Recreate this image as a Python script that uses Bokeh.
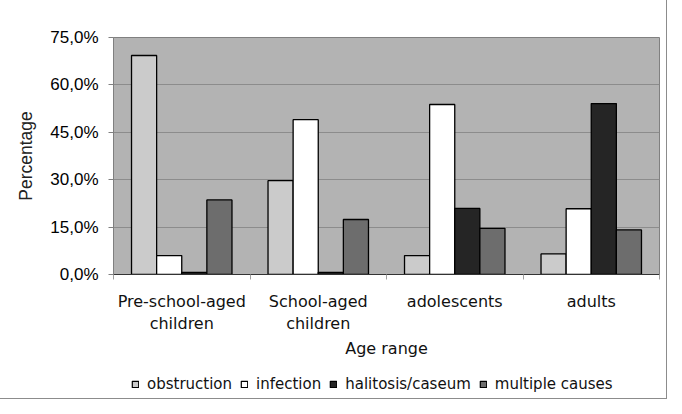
from bokeh.plotting import figure
from bokeh.layouts import column
from bokeh.models import FixedTicker, Legend, LegendItem, ColumnDataSource, Range1d
from bokeh.transform import dodge
from bokeh.embed import file_html
from bokeh.resources import INLINE

categories = ["Pre-school-aged\nchildren", "School-aged\nchildren", "adolescents", "adults"]
series = ["obstruction", "infection", "halitosis/caseum", "multiple causes"]
obstruction = [69.3, 29.7, 6.0, 6.5]
infection = [6.0, 49.0, 53.8, 20.8]
halitosis = [0.7, 0.7, 20.9, 54.1]
multiple = [23.6, 17.4, 14.6, 14.1]
y_ticks = [0, 15, 30, 45, 60, 75]
y_tick_labels = ["0,0%", "15,0%", "30,0%", "45,0%", "60,0%", "75,0%"]
colors = ["#cbcbcb", "#ffffff", "#252525", "#6d6d6d"]

centers = [i + 0.5 for i in range(len(categories))]
bounds = [float(i) for i in range(len(categories) + 1)]
src = ColumnDataSource(dict(x=centers, obstruction=obstruction, infection=infection,
                            halitosis=halitosis, multiple=multiple))

W = 666
H_MAIN = 372
H_LEG = 26

p = figure(width=W, height=H_MAIN, output_backend="svg", toolbar_location=None,
           x_range=Range1d(0, len(categories)), y_range=Range1d(0, 75),
           min_border_left=113, min_border_right=7, min_border_top=37,
           min_border_bottom=H_MAIN - 274,
           background_fill_color="#b3b3b3", border_fill_color="white",
           outline_line_color="#808080")

bw = 0.184
offsets = [-1.5 * bw, -0.5 * bw, 0.5 * bw, 1.5 * bw]
fields = ["obstruction", "infection", "halitosis", "multiple"]
for f, off, c in zip(fields, offsets, colors):
    p.vbar(x=dodge("x", off, range=p.x_range), top=f, width=bw, bottom=0, source=src,
           fill_color=c, line_color="black", line_width=1.3)

# y axis
p.yaxis.ticker = FixedTicker(ticks=y_ticks)
p.yaxis.major_label_overrides = {t: l for t, l in zip(y_ticks, y_tick_labels)}
p.yaxis.major_label_text_font = "Liberation Sans"
p.yaxis.major_label_text_font_size = "17px"
p.yaxis.major_label_text_color = "black"
p.yaxis.major_tick_out = 5
p.yaxis.major_tick_in = 0
p.yaxis.major_tick_line_color = "#808080"
p.yaxis.minor_tick_line_color = None
p.yaxis.axis_line_color = "#808080"
p.yaxis.major_label_standoff = 10
p.yaxis.axis_label = "Percentage"
p.yaxis.axis_label_text_font = "Liberation Sans"
p.yaxis.axis_label_text_font_size = "17.5px"
p.yaxis.axis_label_text_font_style = "normal"
p.yaxis.axis_label_text_color = "#222222"
p.yaxis.axis_label_standoff = 11

# x axis
p.xaxis.ticker = FixedTicker(ticks=centers, minor_ticks=bounds)
p.xaxis.major_label_overrides = {t: l for t, l in zip(centers, categories)}
p.xaxis.major_label_text_font = "DejaVu Sans"
p.xaxis.major_label_text_font_size = "16px"
p.xaxis.major_label_text_color = "#111111"
p.xaxis.major_tick_line_color = None
p.xaxis.major_tick_out = 0
p.xaxis.major_tick_in = 0
p.xaxis.minor_tick_line_color = "#a0a0a0"
p.xaxis.minor_tick_out = 5
p.xaxis.minor_tick_in = 0
p.xaxis.axis_line_color = "#333333"
p.xaxis.major_label_standoff = 12
p.xaxis.axis_label = "Age range"
p.xaxis.axis_label_text_font = "DejaVu Sans"
p.xaxis.axis_label_text_font_size = "16px"
p.xaxis.axis_label_text_font_style = "normal"
p.xaxis.axis_label_text_color = "#111111"
p.xaxis.axis_label_standoff = 3

p.xgrid.grid_line_color = None
p.ygrid.grid_line_color = "#8c8c8c"
p.ygrid.grid_line_width = 1

# legend strip (its frame is aligned with the main plot's frame by the column)
lp = figure(width=W, height=H_LEG, output_backend="svg", toolbar_location=None,
            x_axis_location=None, y_axis_location=None,
            x_range=Range1d(0, 1), y_range=Range1d(0, 1),
            min_border_left=0, min_border_right=0, min_border_top=0, min_border_bottom=0,
            outline_line_color=None, border_fill_color="white", background_fill_color="white")
lp.xgrid.visible = False
lp.ygrid.visible = False
# legend-only renderers: a single undrawable (NaN) row, only their swatches are shown
legend_src = ColumnDataSource(dict(x=[float("nan")], top=[float("nan")]))
leg_renderers = []
for c in colors:
    leg_renderers.append(lp.vbar(x="x", top="top", width=0.1, bottom=0, source=legend_src,
                                 fill_color=c, line_color="black", line_width=1.2))
legend = Legend(items=[LegendItem(label=s, renderers=[r]) for s, r in zip(series, leg_renderers)],
                orientation="horizontal", location=(18, 5),
                glyph_width=8, glyph_height=8, label_standoff=8, spacing=8,
                padding=0, margin=0, border_line_color=None, background_fill_alpha=0,
                label_text_font="DejaVu Sans", label_text_font_size="15px",
                label_text_color="#111111")
lp.add_layout(legend, "center")

layout = column(p, lp, spacing=0,
                styles={"outline": "1px solid #8c8c8c", "outline-offset": "0px"})

open("out.html", "w").write(file_html(layout, INLINE))
